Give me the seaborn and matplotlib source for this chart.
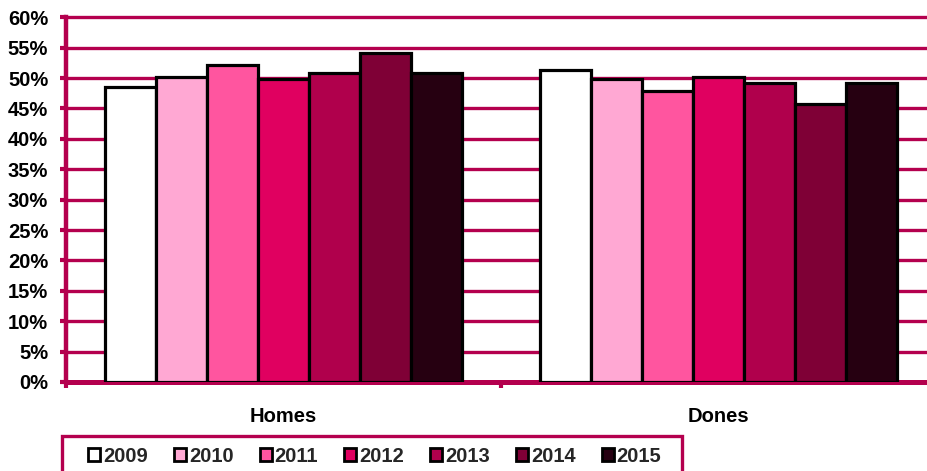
import matplotlib
matplotlib.use("Agg")
import matplotlib.pyplot as plt
from matplotlib.patches import Patch, Rectangle
from matplotlib.ticker import FixedLocator
import seaborn as sns
import pandas as pd

groups = ["Homes", "Dones"]
years = ["2009", "2010", "2011", "2012", "2013", "2014", "2015"]
homes = [48.6, 50.2, 52.1, 49.9, 50.8, 54.2, 50.8]
dones = [51.4, 49.8, 47.9, 50.1, 49.2, 45.8, 49.2]
colors = ["#FFFFFF", "#FFA8D3", "#FF559F", "#E00060", "#B0004C", "#7F0036", "#260011"]
crimson = "#B4004E"

df = pd.DataFrame({
    "group": [groups[0]] * len(years) + [groups[1]] * len(years),
    "year": years + years,
    "share": homes + dones,
})

sns.set_theme(style="white")
plt.rcParams["font.family"] = ["Liberation Sans", "DejaVu Sans"]
plt.rcParams["font.weight"] = "bold"

fig = plt.figure(figsize=(9.27, 4.71), dpi=100)
ax = fig.add_axes([0.0707, 0.189, 0.939, 0.7795])

sns.barplot(
    data=df, x="group", y="share", hue="year",
    order=groups, hue_order=years, palette=colors, saturation=1,
    width=0.82, gap=0, edgecolor="black", linewidth=2.3,
    legend=False, ax=ax, zorder=3,
)

ax.set_xlim(-0.5, 1.5)
ax.set_ylim(0, 60.4)
ax.set_yticks(range(0, 61, 5))
ax.set_yticklabels([f"{v}%" for v in range(0, 61, 5)])
ax.yaxis.grid(True, color=crimson, linewidth=2.4)
ax.xaxis.grid(False)
ax.set_axisbelow(True)
ax.set(xlabel="", ylabel="")

for side in ["top", "right"]:
    ax.spines[side].set_visible(False)
ax.spines["left"].set_color(crimson)
ax.spines["left"].set_linewidth(3.2)
ax.spines["left"].set_bounds(0, 60)
ax.spines["bottom"].set_color(crimson)
ax.spines["bottom"].set_linewidth(3.6)

ax.tick_params(axis="y", which="major", left=True, length=4.5, width=3,
               color=crimson, pad=8, labelsize=14.5, labelcolor="black")
ax.tick_params(axis="x", which="major", bottom=False, pad=12,
               labelsize=14.5, labelcolor="black")
ax.xaxis.set_minor_locator(FixedLocator([-0.5, 0.5, 1.5]))
ax.tick_params(axis="x", which="minor", bottom=True, length=4.5, width=3,
               color=crimson, direction="out")
for lab in ax.get_xticklabels() + ax.get_yticklabels():
    lab.set_fontweight("bold")

# legend box at the bottom, cut by the figure edge like the source
fig.patches.append(Rectangle(
    (61.5 / 927, -0.05), (682 - 61.5) / 927, (1 - 436 / 471) + 0.05,
    transform=fig.transFigure, fill=False, edgecolor=crimson,
    linewidth=2.4, clip_on=False,
))
handles = [Patch(facecolor=c, edgecolor="black", linewidth=2.0) for c in colors]
fig.legend(
    handles, years, loc="center left",
    bbox_to_anchor=(88 / 927, 1 - 456 / 471), ncol=len(years),
    frameon=False, borderpad=0, borderaxespad=0,
    handlelength=0.6, handleheight=0.6, handletextpad=0.15,
    columnspacing=1.29, prop={"size": 14.5, "weight": "bold"},
)

fig.savefig("out.png", dpi=100)
